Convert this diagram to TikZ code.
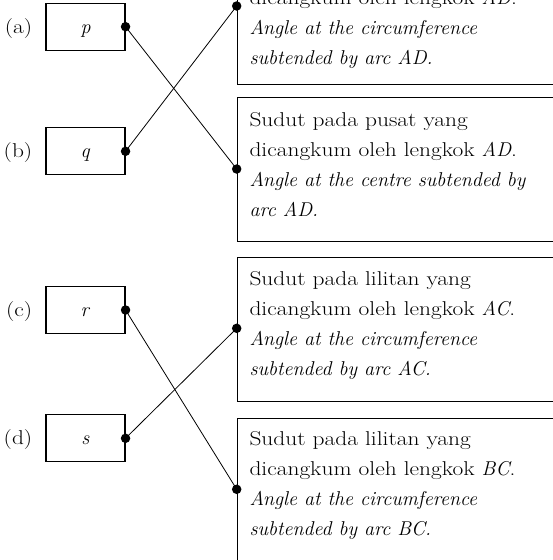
\documentclass[tikz,border=0pt]{standalone}
\usepackage{fontspec}
\setmainfont{Latin Modern Roman}[UprightFeatures={FakeStretch=1.17}]
\usetikzlibrary{calc}
\begin{document}
\begin{tikzpicture}[x=1pt,y=-1pt,
  every node/.style={font=\fontsize{20}{30}\selectfont, text=black},
  lbox/.style={draw, line width=1.1pt, minimum width=79pt, minimum height=47pt, inner sep=0pt, text height=14pt, text depth=1.4pt},
  rbox/.style={draw, line width=1.1pt, minimum width=340pt, inner sep=0pt, anchor=north west},
  txt/.style={anchor=base west, inner sep=0pt},
  lab/.style={anchor=base east, inner sep=0pt},
  dot/.style={circle, fill=black, inner sep=0pt, minimum size=9.5pt},
  link/.style={line width=0.8pt}]
\useasboundingbox (0,0) rectangle (553,560);
\fill[white] (0,0) rectangle (553,560);
\clip (0,0) rectangle (553,560);

% left boxes
\node[lbox] (pa) at (85.5,26.7) {\textit{p}};
\node[lbox] (pb) at (85.5,151.3) {\textit{q}};
\node[lbox] (pc) at (85.5,310) {\textit{r}};
\node[lbox] (pd) at (85.5,438.3) {\textit{s}};

\node[lab] (la) at ($(pa.west)+(-13,6.3)$) {(a)};
\node[lab] (lb) at ($(pb.west)+(-13,6.3)$) {(b)};
\node[lab] (lc) at ($(pc.west)+(-13,6.3)$) {(c)};
\node[lab] (ld) at ($(pd.west)+(-13,6.3)$) {(d)};

% right boxes
\node[rbox, minimum height=140pt] (ra) at (236.7,-56) {};
\node[rbox, minimum height=143.4pt] (rb) at (236.7,97.3) {};
\node[rbox, minimum height=144pt] (rc) at (236.7,256.7) {};
\node[rbox, minimum height=150pt] (rd) at (236.7,418.3) {};

\node[txt] (ta) at ($(ra.north west)+(12.6,30)$) {\parbox[t]{320pt}{\raggedright
Sudut pada lilitan yang\\
dicangkum oleh lengkok \textit{AD}.\\
\textit{Angle at the circumference}\\
\textit{subtended by arc AD.}}};
\node[txt] (tb) at ($(rb.north west)+(12.6,29.4)$) {\parbox[t]{320pt}{\raggedright
Sudut pada pusat yang\\
dicangkum oleh lengkok \textit{AD}.\\
\textit{Angle at the centre subtended by}\\
\textit{arc AD.}}};
\node[txt] (tc) at ($(rc.north west)+(12.6,28.3)$) {\parbox[t]{320pt}{\raggedright
Sudut pada lilitan yang\\
dicangkum oleh lengkok \textit{AC}.\\
\textit{Angle at the circumference}\\
\textit{subtended by arc AC.}}};
\node[txt] (td) at ($(rd.north west)+(12.6,27)$) {\parbox[t]{320pt}{\raggedright
Sudut pada lilitan yang\\
dicangkum oleh lengkok \textit{BC}.\\
\textit{Angle at the circumference}\\
\textit{subtended by arc BC.}}};

% end points on the right boxes
\coordinate (ea) at ($(ra.north west)+(0,62)$);
\coordinate (eb) at ($(rb.north west)+(0,71.7)$);
\coordinate (ec) at ($(rc.north west)+(0,71.6)$);
\coordinate (ed) at ($(rd.north west)+(0,71)$);

% connectors
\draw[link] (pa.east) -- (eb);
\draw[link] (pb.east) -- (ea);
\draw[link] (pc.east) -- (ed);
\draw[link] (pd.east) -- (ec);

% dots
\foreach \n in {pa.east,pb.east,pc.east,pd.east,ea,eb,ec,ed}
  \node[dot] at (\n) {};
\end{tikzpicture}
\end{document}
